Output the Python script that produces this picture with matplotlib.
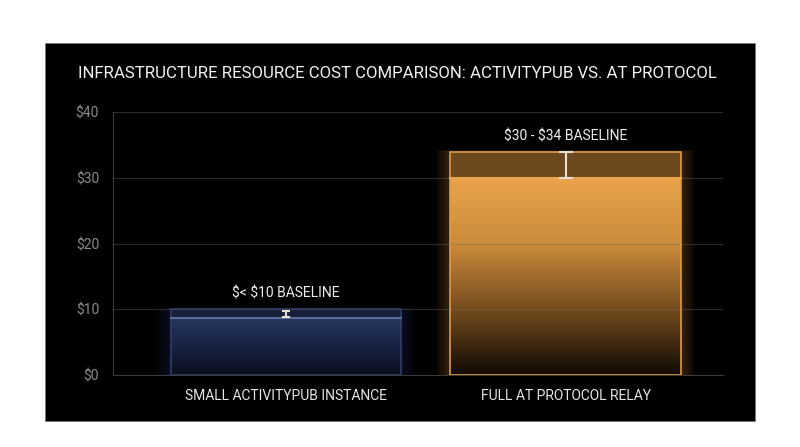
import numpy as np
import matplotlib
matplotlib.use("Agg")
import matplotlib.pyplot as plt
from matplotlib.patches import Rectangle
from matplotlib.colors import LinearSegmentedColormap

plt.rcParams['font.family'] = ['Roboto', 'DejaVu Sans']
plt.rcParams['text.parse_math'] = False

# data
categories = ["SMALL ACTIVITYPUB INSTANCE", "FULL AT PROTOCOL RELAY"]
base_cost = [8.6, 30]          # solid part of bar
range_top = [10, 34]           # top of the baseline range
err_low = [8.8, 30]
err_high = [9.7, 34]
range_labels = ["$< $10 BASELINE", "$30 - $34 BASELINE"]
yticks = [0, 10, 20, 30, 40]
ytick_labels = ["$0", "$10", "$20", "$30", "$40"]

# colours per bar: gradient stops (bottom -> top), range fill, edge, glow
grad_stops = [
    [(0.0, "#0a0e1c"), (0.5, "#172243"), (1.0, "#27365f")],
    [(0.0, "#100a04"), (0.35, "#7a4f20"), (0.65, "#c98a3a"), (1.0, "#eba44c")],
]
range_fill = ["#18203a", "#6b481e"]
edge_col = ["#2f3d66", "#dc9a4a"]
split_col = ["#5a6c9a", "#eaa54e"]
glow_col = ["#2a3c78", "#c27a28"]
capsizes = [3, 5]

fig = plt.figure(figsize=(8, 4.47), dpi=100)
fig.patch.set_facecolor("white")

# black panel
panel = Rectangle((45 / 800, 26 / 447), 710 / 800, 378 / 447,
                  transform=fig.transFigure, facecolor="black",
                  edgecolor="#777777", linewidth=0.6, zorder=-5)
fig.patches.append(panel)

ax = fig.add_axes([113 / 800, 72 / 447, 609.7 / 800, 262.8 / 447])
ax.set_facecolor("black")
ax.set_zorder(2)

width = 0.825
x = np.arange(len(categories))

for i in x:
    x0 = i - width / 2
    x1 = i + width / 2
    # soft glow
    for k in np.linspace(0.005, 0.05, 10):
        ax.add_patch(Rectangle((x0 - k, 0), width + 2 * k, range_top[i] + k * 5,
                               facecolor=glow_col[i], edgecolor="none",
                               alpha=0.035, zorder=1))
    # gradient solid part
    cmap = LinearSegmentedColormap.from_list("g", grad_stops[i])
    grad = np.linspace(0, 1, 256).reshape(-1, 1)
    ax.imshow(grad, extent=[x0, x1, 0, base_cost[i]], origin="lower",
              aspect="auto", cmap=cmap, zorder=2)
    # baseline range part
    ax.add_patch(Rectangle((x0, base_cost[i]), width, range_top[i] - base_cost[i],
                           facecolor=range_fill[i], edgecolor="none", zorder=2))
    # outline
    ax.add_patch(Rectangle((x0, 0), width, range_top[i], facecolor="none",
                           edgecolor=edge_col[i], linewidth=1.2, zorder=4))
    ax.plot([x0, x1], [base_cost[i], base_cost[i]], color=split_col[i],
            linewidth=1.5, zorder=4)
    # error bar
    mid = (err_low[i] + err_high[i]) / 2
    ax.errorbar(i, mid, yerr=[[mid - err_low[i]], [err_high[i] - mid]],
                fmt="none", ecolor="#e8e0d0", elinewidth=1.5,
                capsize=capsizes[i], capthick=1.5, zorder=5)
    ax.text(i, range_top[i] + 1.3, range_labels[i], ha="center", va="bottom",
            color="#eeeeee", fontsize=10, zorder=6)

# grid
for yv in yticks[1:]:
    ax.axhline(yv, color="#666666", linewidth=0.8, alpha=0.4, zorder=3)

ax.set_xlim(-0.619, 1.562)
ax.set_ylim(0, 40)
ax.set_yticks(yticks)
ax.set_yticklabels(ytick_labels)
ax.set_xticks(x)
ax.set_xticklabels(categories)
ax.tick_params(axis="y", colors="#8a8a8a", labelsize=10, length=0, pad=10)
ax.tick_params(axis="x", colors="#e6e6e6", labelsize=10, length=0, pad=10)

for s in ["top", "right"]:
    ax.spines[s].set_visible(False)
ax.spines["left"].set_color("#3a3a3a")
ax.spines["bottom"].set_color("#3a3a3a")

fig.text(78 / 800, 1 - 73 / 447,
         "INFRASTRUCTURE RESOURCE COST COMPARISON: ACTIVITYPUB VS. AT PROTOCOL",
         color="#f2f2f2", fontsize=12.1, ha="left", va="center")

fig.savefig("out.png", dpi=100, facecolor=fig.get_facecolor())
